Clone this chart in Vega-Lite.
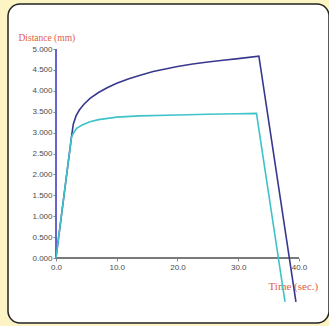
{
  "$schema": "https://vega.github.io/schema/vega-lite/v6.json",
  "width": 321,
  "height": 319,
  "autosize": {"type": "none"},
  "padding": {"left": 8, "top": 4, "right": 0, "bottom": 3},
  "background": "#fdf4c6",
  "config": {
    "view": {"stroke": "#222222", "strokeWidth": 1.5, "cornerRadius": 12, "fill": "#ffffff"}
  },
  "encoding": {
    "x": {
      "field": "t",
      "type": "quantitative",
      "scale": {"domain": [-7.9, 44.94], "nice": false, "zero": false},
      "axis": {
        "values": [0, 10, 20, 30, 40],
        "format": ".1f",
        "offset": -65,
        "domain": false,
        "grid": false,
        "tickSize": 3,
        "tickColor": "#888888",
        "labelFont": "Liberation Sans",
        "labelFontSize": 8,
        "labelColor": "#4a4a4a",
        "labelPadding": 2,
        "title": "Time (sec.)",
        "titleFont": "Liberation Serif",
        "titleFontSize": 11,
        "titleFontWeight": "normal",
        "titleColor": "#e0604a",
        "titleX": 260,
        "titleY": 28,
        "titleAlign": "left",
        "titleBaseline": "middle",
        "titleAnchor": null
      }
    },
    "y": {
      "field": "d",
      "type": "quantitative",
      "scale": {"domain": [-1.555, 6.077], "nice": false, "zero": false},
      "axis": {
        "values": [0, 0.5, 1, 1.5, 2, 2.5, 3, 3.5, 4, 4.5, 5],
        "format": ".3f",
        "offset": -48,
        "domain": false,
        "grid": false,
        "tickSize": 3,
        "tickColor": "#888888",
        "labelFont": "Liberation Sans",
        "labelFontSize": 8,
        "labelColor": "#4a4a4a",
        "labelPadding": 1,
        "title": "Distance (mm)",
        "titleFont": "Liberation Serif",
        "titleFontSize": 9.5,
        "titleFontWeight": "normal",
        "titleColor": "#e0604a",
        "titleAngle": 0,
        "titleX": -38,
        "titleY": 33,
        "titleAlign": "left",
        "titleBaseline": "middle",
        "titleAnchor": null
      }
    }
  },
  "layer": [
    {
      "data": {"values": [{"t": 0, "t2": 40, "d": 0}]},
      "mark": {"type": "rule", "color": "#7a7a7a", "strokeWidth": 2},
      "encoding": {"x2": {"field": "t2"}}
    },
    {
      "data": {"values": [{"t": 0, "d": 0, "d2": 5}]},
      "mark": {"type": "rule", "color": "#6464cc", "strokeWidth": 2},
      "encoding": {"y2": {"field": "d2"}}
    },
    {
      "data": {
        "values": [
          {"s": "A", "t": 0, "d": 0},
          {"s": "A", "t": 2.6, "d": 2.95},
          {"s": "A", "t": 2.85, "d": 3.2},
          {"s": "A", "t": 3.3, "d": 3.4},
          {"s": "A", "t": 3.84, "d": 3.54},
          {"s": "A", "t": 4.6, "d": 3.68},
          {"s": "A", "t": 5.6, "d": 3.82},
          {"s": "A", "t": 7, "d": 3.96},
          {"s": "A", "t": 8.5, "d": 4.08},
          {"s": "A", "t": 10, "d": 4.18},
          {"s": "A", "t": 12, "d": 4.29},
          {"s": "A", "t": 14, "d": 4.38},
          {"s": "A", "t": 16, "d": 4.46},
          {"s": "A", "t": 18, "d": 4.52},
          {"s": "A", "t": 20, "d": 4.58},
          {"s": "A", "t": 22.5, "d": 4.64},
          {"s": "A", "t": 25, "d": 4.69},
          {"s": "A", "t": 27.5, "d": 4.73},
          {"s": "A", "t": 30, "d": 4.77},
          {"s": "A", "t": 33.4, "d": 4.83},
          {"s": "A", "t": 39.5, "d": -1.05},
          {"s": "B", "t": 0, "d": 0},
          {"s": "B", "t": 2.55, "d": 2.9},
          {"s": "B", "t": 3.0, "d": 3.02},
          {"s": "B", "t": 3.4, "d": 3.1},
          {"s": "B", "t": 4.3, "d": 3.18},
          {"s": "B", "t": 5.6, "d": 3.26},
          {"s": "B", "t": 7, "d": 3.31},
          {"s": "B", "t": 8.5, "d": 3.34},
          {"s": "B", "t": 10, "d": 3.37},
          {"s": "B", "t": 13.8, "d": 3.4},
          {"s": "B", "t": 20, "d": 3.42},
          {"s": "B", "t": 25, "d": 3.44},
          {"s": "B", "t": 30, "d": 3.45},
          {"s": "B", "t": 33.0, "d": 3.46},
          {"s": "B", "t": 37.7, "d": -1.05}
        ]
      },
      "mark": {"type": "line", "strokeWidth": 1.6},
      "encoding": {
        "color": {
          "field": "s",
          "type": "nominal",
          "scale": {"domain": ["A", "B"], "range": ["#383890", "#3ec3c8"]},
          "legend": null
        }
      }
    }
  ]
}
